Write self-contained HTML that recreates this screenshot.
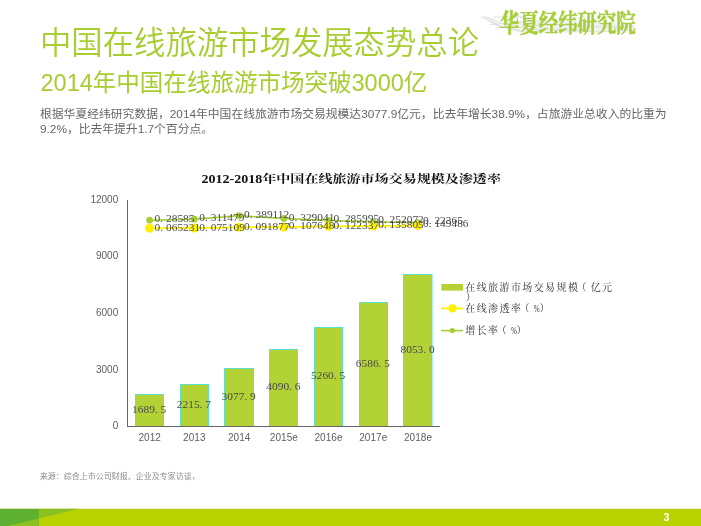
<!DOCTYPE html>
<html lang="zh-CN">
<head>
<meta charset="utf-8">
<title>中国在线旅游市场发展态势总论</title>
<style>
html,body{margin:0;padding:0;background:#fff;}
body{width:701px;height:526px;position:relative;overflow:hidden;font-family:"Liberation Sans","Noto Sans CJK SC",sans-serif;}
.abs{position:absolute;white-space:nowrap;}
#title{left:40px;top:22px;font-size:31.36px;line-height:44px;font-weight:350;color:#a7cd30;}
#sub{left:40.5px;top:66px;font-size:23.52px;line-height:34px;font-weight:400;color:#a7cd30;}
#body1,#body2{left:40px;font-size:11.8px;line-height:14px;color:#666;font-weight:400;}
#body1{top:106.5px;}
#body2{top:121.5px;}
#wm{left:500px;top:7px;font-family:"Liberation Serif","Noto Serif CJK SC",serif;font-weight:700;font-size:25px;line-height:34px;color:#a6ce39;-webkit-text-stroke:0.45px #a6ce39;transform:scaleX(0.775);transform-origin:0 0;}
#src{left:39.8px;top:470.5px;font-size:8px;line-height:12px;color:#8c8c8c;}
#footer{left:0;top:500px;}
#pg{left:663.4px;top:510.2px;font-size:10.7px;line-height:14px;font-weight:bold;color:#fff;}
svg text{white-space:pre;}
</style>
</head>
<body>
<svg class="abs" id="wmlogo" style="left:470px;top:0px" width="190" height="44" viewBox="470 0 190 44">
  <defs><filter id="bl" x="-5%" y="-20%" width="110%" height="140%"><feGaussianBlur stdDeviation="0.7"/></filter></defs>
  <g filter="url(#bl)">
    <polygon points="502,21 560,20 634,24 637,30 600,32.5 520,33 508,30" fill="#ececec" opacity="0.7"/>
    <g fill="none" stroke="#dadada" stroke-width="0.9" stroke-linecap="round">
      <path d="M481.5 16.8 L497 25.5 L520 31"/>
      <path d="M484 16.5 L501 26.5"/>
      <path d="M487 17 L503 24.5 L540 30"/>
      <path d="M492 20 L494 18.5"/>
      <path d="M494 17 L522 16.8 L534 22"/>
      <path d="M490 24.5 L522 22"/>
      <path d="M496 28 L512 26"/>
      <path d="M520 17.5 L545 29 L600 32 L634 30"/>
      <path d="M545 24 L600 27 L632 26"/>
    </g>
  </g>
</svg>
<div class="abs" id="wm">华夏经纬研究院</div>
<div class="abs" id="title">中国在线旅游市场发展态势总论</div>
<div class="abs" id="sub">2014年中国在线旅游市场突破3000亿</div>
<div class="abs" id="body1">根据华夏经纬研究数据，2014年中国在线旅游市场交易规模达3077.9亿元，比去年增长38.9%，占旅游业总收入的比重为</div>
<div class="abs" id="body2">9.2%，比去年提升1.7个百分点。</div>

<svg class="abs" id="chart" style="left:0;top:150px" width="701" height="310" viewBox="0 150 701 310">
  <text x="351.2" y="182.6" text-anchor="middle" font-family="'Liberation Serif','Noto Serif CJK SC',serif" font-weight="bold" font-size="11.8" fill="#111" textLength="299.5" lengthAdjust="spacingAndGlyphs">2012-2018年中国在线旅游市场交易规模及渗透率</text>
  <g fill="#b2d235" stroke="#45dfd2" stroke-opacity="0.85" stroke-width="1">
    <rect x="135.5" y="394.5" width="28" height="32.0"/>
    <rect x="180.5" y="384.5" width="28" height="42.0"/>
    <rect x="224.5" y="368.5" width="29" height="58.0"/>
    <rect x="269.5" y="349.5" width="28" height="77.0"/>
    <rect x="314.5" y="327.5" width="28" height="99.0"/>
    <rect x="359.5" y="302.5" width="28" height="124.0"/>
    <rect x="403.5" y="274.5" width="28.5" height="152.0"/>
  </g>
  <path d="M127.5 200 V427 M127 426.5 H440" stroke="#666" stroke-width="1" fill="none"/>
  <g font-family="'Liberation Sans',sans-serif" font-size="10" fill="#606060" text-anchor="end">
    <text x="118.2" y="202.7" textLength="27.8" lengthAdjust="spacing">12000</text>
    <text x="118.2" y="259.3" textLength="22.2" lengthAdjust="spacing">9000</text>
    <text x="118.2" y="315.9" textLength="22.2" lengthAdjust="spacing">6000</text>
    <text x="118.2" y="372.5" textLength="22.2" lengthAdjust="spacing">3000</text>
    <text x="118.2" y="429.1">0</text>
  </g>
  <g font-family="'Liberation Sans',sans-serif" font-size="10" fill="#606060" text-anchor="middle">
    <text x="149.6" y="440.8" textLength="22.4" lengthAdjust="spacing">2012</text>
    <text x="194.3" y="440.8" textLength="22.4" lengthAdjust="spacing">2013</text>
    <text x="239.1" y="440.8" textLength="22.4" lengthAdjust="spacing">2014</text>
    <text x="283.8" y="440.8" textLength="28.0" lengthAdjust="spacing">2015e</text>
    <text x="328.5" y="440.8" textLength="28.0" lengthAdjust="spacing">2016e</text>
    <text x="373.2" y="440.8" textLength="28.0" lengthAdjust="spacing">2017e</text>
    <text x="418.0" y="440.8" textLength="28.0" lengthAdjust="spacing">2018e</text>
  </g>
  <g font-family="'Liberation Serif',serif" font-size="11.4" fill="#4a4a4a" text-anchor="middle">
    <text x="149.2" y="412.8">1689.<tspan dx="2.85">5</tspan></text>
    <text x="193.9" y="407.8">2215.<tspan dx="2.85">7</tspan></text>
    <text x="238.7" y="399.8">3077.<tspan dx="2.85">9</tspan></text>
    <text x="283.4" y="389.8">4090.<tspan dx="2.85">6</tspan></text>
    <text x="328.1" y="378.8">5260.<tspan dx="2.85">5</tspan></text>
    <text x="372.9" y="366.6">6586.<tspan dx="2.85">5</tspan></text>
    <text x="417.6" y="352.6">8053.<tspan dx="2.85">0</tspan></text>
  </g>
  <polyline points="149.6,220.2 194.3,219.1 239.1,215.7 283.8,218.5 328.5,220.4 373.2,221.8 418.0,222.6" fill="none" stroke="#a6ce39" stroke-width="1.6"/>
  <polyline points="149.6,228.3 194.3,228.0 239.1,227.3 283.8,227.0 328.5,226.4 373.2,226.1 418.0,225.5" fill="none" stroke="#fff200" stroke-width="1.8"/>
  <g fill="#a6ce39"><circle cx="149.6" cy="220.2" r="3.4"/><circle cx="194.3" cy="219.1" r="3.4"/><circle cx="239.1" cy="215.7" r="3.4"/><circle cx="283.8" cy="218.5" r="3.4"/><circle cx="328.5" cy="220.4" r="3.4"/><circle cx="373.2" cy="221.8" r="3.4"/><circle cx="418.0" cy="222.6" r="3.4"/></g>
  <g fill="#fff200"><circle cx="149.6" cy="228.3" r="4.5"/><circle cx="194.3" cy="228.0" r="4.5"/><circle cx="239.1" cy="227.3" r="4.5"/><circle cx="283.8" cy="227.0" r="4.5"/><circle cx="328.5" cy="226.4" r="4.5"/><circle cx="373.2" cy="226.1" r="4.5"/><circle cx="418.0" cy="225.5" r="4.5"/></g>
  <g font-family="'Liberation Serif',serif" font-size="11.4" fill="#4a4a4a">
    <text x="154.6" y="222.0">0.<tspan dx="2.85">28585</tspan></text>
    <text x="199.3" y="221.2">0.<tspan dx="2.85">311479</tspan></text>
    <text x="244.1" y="217.7">0.<tspan dx="2.85">389112</tspan></text>
    <text x="288.8" y="220.6">0.<tspan dx="2.85">329041</tspan></text>
    <text x="333.5" y="222.0">0.<tspan dx="2.85">285995</tspan></text>
    <text x="378.2" y="222.9">0.<tspan dx="2.85">252072</tspan></text>
    <text x="423.0" y="223.8">0.<tspan dx="2.85">22365</tspan></text>
    <text x="154.6" y="230.9">0.<tspan dx="2.85">065231</tspan></text>
    <text x="199.3" y="230.7">0.<tspan dx="2.85">075109</tspan></text>
    <text x="244.1" y="229.9">0.<tspan dx="2.85">091877</tspan></text>
    <text x="288.8" y="229.0">0.<tspan dx="2.85">107648</tspan></text>
    <text x="333.5" y="228.6">0.<tspan dx="2.85">122337</tspan></text>
    <text x="378.2" y="228.3">0.<tspan dx="2.85">135805</tspan></text>
    <text x="423.0" y="227.4">0.<tspan dx="2.85">149486</tspan></text>
  </g>
  <rect x="441.5" y="284" width="21.5" height="6.6" fill="#b2d235"/>
  <path d="M441 308.4 H463" stroke="#fff200" stroke-width="1.8"/>
  <circle cx="452.5" cy="308.4" r="4.1" fill="#fff200"/>
  <path d="M441 330.6 H463" stroke="#a6ce39" stroke-width="1.6"/>
  <circle cx="452.3" cy="330.6" r="2.7" fill="#a6ce39"/>
  <g font-family="'Liberation Serif','Noto Serif CJK SC',serif" font-size="10" fill="#333" letter-spacing="1.4">
    <text x="465.3" y="291">在线旅游市场交易规模</text>
    <text x="576.6" y="291">（</text>
    <text x="590.7" y="291">亿元</text>
    <text x="465.70000000000005" y="300.6">）</text>
    <text x="465.3" y="312.4">在线渗透率</text>
    <text x="519.6" y="312.4">（</text>
    <text x="533.7" y="312.2" font-size="10" letter-spacing="0" textLength="5.9" lengthAdjust="spacingAndGlyphs">%</text>
    <text x="539.4" y="312.4">）</text>
    <text x="465.3" y="334">增长率</text>
    <text x="496.8" y="334">（</text>
    <text x="510.9" y="333.8" font-size="10" letter-spacing="0" textLength="5.9" lengthAdjust="spacingAndGlyphs">%</text>
    <text x="516.6" y="334">）</text>
  </g>
</svg>

<div class="abs" id="src">来源：综合上市公司财报、企业及专家访谈，</div>
<svg class="abs" id="footer" width="701" height="26" viewBox="0 500 701 26">
  <rect x="0" y="508.8" width="701" height="18" fill="#b8d200"/>
  <rect x="0" y="508.8" width="38.8" height="18" fill="#5eb030"/>
  <polygon points="38.8,508.8 79.9,508.8 38.8,518.5" fill="#8cc020"/>
  <polygon points="38.8,518.5 38.8,527 2.8,527" fill="#8cc020"/>
</svg>
<div class="abs" id="pg">3</div>
</body>
</html>
